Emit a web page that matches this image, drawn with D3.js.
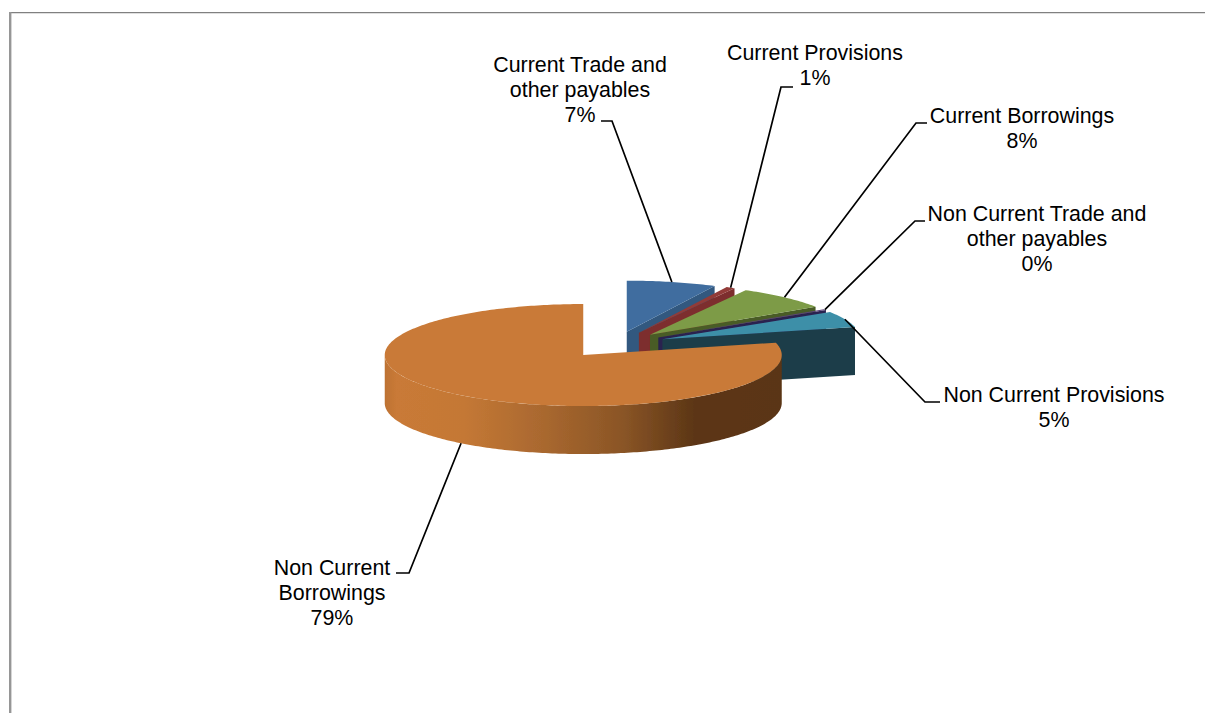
<!DOCTYPE html>
<html>
<head>
<meta charset="utf-8">
<script src="https://cdn.jsdelivr.net/npm/d3@7/dist/d3.min.js"></script>
<style>
html,body{margin:0;padding:0;background:#fff;overflow:hidden}
svg{display:block}
text{font-family:"Liberation Sans",Arial,sans-serif;font-size:21.4px;fill:#000;text-anchor:middle}
</style>
</head>
<body>
<svg id="chart" width="1205" height="713"></svg>
<script>
// Liabilities breakdown, share of total (%)
const categories = ["Current Trade and other payables","Current Provisions","Current Borrowings",
  "Non Current Trade and other payables","Non Current Provisions","Non Current Borrowings"];
const shares = [7.3, 0.7, 7.7, 0.3, 5.1, 78.9];
const topColors = ["#406d9f","#923a37","#7d9b46","#5b4478","#3d8fa8","#c97a37"];
const wallColors = ["#31597f","#7d2f2d","#485c26","#2b2050","#1b3e4a","#5a3415"];
const labelLines = [["Current Trade and","other payables"],["Current Provisions"],["Current Borrowings"],
  ["Non Current Trade and","other payables"],["Non Current Provisions"],["Non Current","Borrowings"]];

// Projection of the tilted pie
const cx = 615, cy = 344.6, rx = 198.5, ry = 51, depth = 48, explode = 0.26;

// Label block centre, first baseline, and leader elbow
const labelLayout = [
  {x:580,  y:72,  elbow:[612,121], tail:[601,121]},
  {x:815,  y:60,  elbow:[781,87],  tail:[793,87]},
  {x:1022, y:123, elbow:[916,123], tail:[927,123]},
  {x:1037, y:221, elbow:[915,221], tail:[925,221]},
  {x:1054, y:402, elbow:[925,402], tail:[940,402]},
  {x:332,  y:575, elbow:[409,573], tail:[396,573]}
];
const lineHeight = 25;

const svg = d3.select("#chart");
const defs = svg.append("defs");
defs.append("filter").attr("id","soft").attr("x","-5%").attr("y","-5%").attr("width","110%").attr("height","110%")
  .append("feGaussianBlur").attr("stdDeviation",0.55);

// Chart frame, open at the right and bottom
svg.append("path").attr("d","M10,713V12.6H1205").attr("fill","none").attr("stroke","#808080").attr("stroke-width",1.3);
svg.append("rect").attr("x",9).attr("y",12).attr("width",2.4).attr("height",701).attr("fill","#969696");

const slices = d3.pie().value(d => d).sort(null).startAngle(0).endAngle(2*Math.PI)(shares);

const onEllipse = (a, ox, oy, scale=1) => [ox + Math.sin(a)*rx*scale, oy - Math.cos(a)*ry*scale];
const apexOf = s => onEllipse((s.startAngle+s.endAngle)/2, cx, cy, explode);
const arcPoints = (a0, a1, ox, oy) => {
  const n = Math.max(2, Math.ceil((a1-a0)*60));
  return d3.range(n+1).map(i => onEllipse(a0+(a1-a0)*i/n, ox, oy));
};
const line = d3.line();

// Shading across the front wall of the large slice
const lastApex = apexOf(slices[5]);
const wallGrad = defs.append("linearGradient").attr("id","frontWall").attr("gradientUnits","userSpaceOnUse")
  .attr("x1",lastApex[0]-rx).attr("x2",lastApex[0]+rx).attr("y1",0).attr("y2",0);
[[0,"#bd7233"],[0.03,"#c97a37"],[0.2,"#c47835"],[0.4,"#a9682f"],[0.6,"#8a5526"],[0.78,"#5c3616"],[1,"#5a3415"]]
  .forEach(([o,c]) => wallGrad.append("stop").attr("offset",o).attr("stop-color",c));

const pieGroup = svg.append("g").attr("filter","url(#soft)");

// Painted back to front so each slice covers the walls behind it
slices.forEach((s,i) => {
  const [ox,oy] = apexOf(s);
  const g = pieGroup.append("g");
  const endPt = onEllipse(s.endAngle, ox, oy);
  // Radial wall at the slice's trailing edge
  if (s.endAngle < Math.PI) {
    g.append("path").attr("fill",wallColors[i])
      .attr("d", line([[ox,oy],endPt,[endPt[0],endPt[1]+depth],[ox,oy+depth]])+"Z");
  }
  // Outer curved wall, only the part that faces the viewer
  const wa0 = Math.max(s.startAngle, Math.PI/2), wa1 = Math.min(s.endAngle, 3*Math.PI/2);
  if (wa1 > wa0) {
    const outer = arcPoints(wa0, wa1, ox, oy);
    const lower = outer.map(p => [p[0],p[1]+depth]).reverse();
    g.append("path").attr("fill", i===5 ? "url(#frontWall)" : wallColors[i])
      .attr("d", line(outer.concat(lower))+"Z");
  }
  // Top face
  g.append("path").attr("fill",topColors[i])
    .attr("d", line([[ox,oy]].concat(arcPoints(s.startAngle,s.endAngle,ox,oy)))+"Z");
});

// Leader lines and labels
const leaders = svg.append("g").attr("fill","none").attr("stroke","#000").attr("stroke-width",1.7);
slices.forEach((s,i) => {
  const mid = (s.startAngle+s.endAngle)/2;
  const [ox,oy] = apexOf(s);
  const p = onEllipse(mid, ox, oy);
  const start = (mid > Math.PI/2 && mid < 3*Math.PI/2) ? [p[0],p[1]+depth] : p;
  const L = labelLayout[i];
  leaders.append("path").attr("d", line([start,L.elbow,L.tail]));
  const text = svg.append("text");
  labelLines[i].concat([Math.round(shares[i])+"%"]).forEach((t,k) => {
    text.append("tspan").attr("x",L.x).attr("y",L.y+k*lineHeight).text(t);
  });
});
</script>
</body>
</html>
